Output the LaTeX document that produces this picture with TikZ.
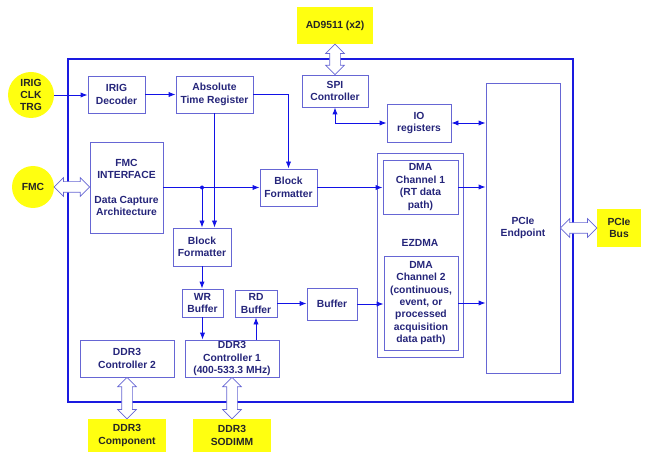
\documentclass[tikz,border=0pt]{standalone}
\usepackage{fontspec}
\setmainfont{Liberation Sans}
\usetikzlibrary{arrows.meta}
\usetikzlibrary{shapes.arrows}
\usetikzlibrary{calc}

\definecolor{linec}{HTML}{1212E6}
\definecolor{boxc}{HTML}{6666D4}
\definecolor{txtc}{HTML}{25257A}
\definecolor{framec}{HTML}{1A1AE0}
\definecolor{yellowc}{HTML}{FFFF10}

% hollow two-way arrow between two anchors
\newcommand{\hollowlink}[3]{%
  \path let \p1=(#1), \p2=(#2), \n1={veclen(\x2-\x1,\y2-\y1)} in
    node[hollow, minimum height=\n1, rotate=#3] at ($(\p1)!0.5!(\p2)$) {};}

\begin{document}
\begin{tikzpicture}[x=0.03cm,y=-0.03cm,
    font=\fontsize{8.8}{10.6}\selectfont\bfseries,
    every node/.style={text=txtc, align=center},
    blk/.style 2 args={draw=boxc, line width=0.7pt, inner sep=0pt,
      minimum width=#1*0.03cm, minimum height=#2*0.03cm},
    ext/.style 2 args={fill=yellowc, inner sep=0pt, text=black!85,
      minimum width=#1*0.03cm, minimum height=#2*0.03cm},
    extc/.style={circle, fill=yellowc, inner sep=0pt, text=black!85,
      minimum size=#1*0.03cm},
    conn/.style={draw=linec, line width=0.75pt, -{Latex[length=6pt,width=4.5pt]}},
    conn2/.style={draw=linec, line width=0.75pt, {Latex[length=6pt,width=4.5pt]}-{Latex[length=6pt,width=4.5pt]}},
    hollow/.style={double arrow, draw=boxc, fill=white, line width=0.6pt,
      inner xsep=0pt, inner ysep=5*0.03cm, minimum width=18*0.03cm,
      double arrow head extend=4*0.03cm, double arrow head indent=0pt}]
  \useasboundingbox (0,0) rectangle (645,456);

  \node[draw=framec, line width=1.5pt, inner sep=0pt,
    minimum width=505*0.03cm, minimum height=343*0.03cm] (board) at (320.5,230.5) {};

  % outside parts
  \node[extc=46] (irig) at (31,95) {IRIG\\CLK\\TRG};
  \node[extc=42] (fmc) at (33,187) {FMC};
  \node[ext={76}{37}] (ad9511) at (335,25.5) {AD9511 (x2)};
  \node[ext={44}{38}] (pciebus) at (619,228) {PCIe\\Bus};
  \node[ext={78}{33}] (ddr3comp) at (127,435.5) {DDR3\\Component};
  \node[ext={78}{33}] (ddr3sodimm) at (232,435.5) {DDR3\\SODIMM};

  % blocks on the board
  \node[blk={57}{37}] (irigdec) at (116.5,94.5) {IRIG\\Decoder};
  \node[blk={77}{37}] (abstime) at (214.5,94.5) {Absolute\\Time Register};
  \node[blk={66}{32}] (spi) at (335,91) {SPI\\Controller};
  \node[blk={64}{38}] (ioreg) at (419,123) {IO\\registers};
  \node[blk={74}{290}] (pcie) at (523,228) {PCIe\\Endpoint};
  \node[blk={73}{91}] (fmcif) at (126.5,187.5) {FMC\\INTERFACE\\[10.6pt]Data Capture\\Architecture};
  \node[blk={57}{37}] (bf1) at (288.5,187.5) {Block\\Formatter};
  \node[blk={58}{38}] (bf2) at (202,247) {Block\\Formatter};
  \node[blk={41}{28}] (wrbuf) at (202.5,303) {WR\\Buffer};
  \node[blk={42}{27}] (rdbuf) at (256,303.5) {RD\\Buffer};
  \node[blk={50}{32}] (buffer) at (332,304) {Buffer};
  \node[blk={94}{37}] (ddr3c2) at (127,358.5) {DDR3\\Controller 2};
  \node[blk={94}{37}] (ddr3c1) at (232,358.5) {DDR3\\Controller 1\\(400-533.3 MHz)};
  \node[blk={86}{204}] (ezdma) at (420,255) {};
  \node[blk={75}{54}] (dma1) at (420.5,187) {DMA\\Channel 1\\(RT data\\path)};
  \node[blk={74}{94}] (dma2) at (421,303) {DMA\\Channel 2\\(continuous,\\event, or\\processed\\acquisition\\data path)};
  \node (ezlabel) at (420,243) {EZDMA};

  % data paths
  \draw[conn] (irig.east) -- (irig.east -| irigdec.west);
  \draw[conn] (irigdec.east) -- (abstime.west);
  \draw[conn] (abstime.east) -| (bf1.north);
  \draw[conn] (abstime.south) -- (abstime.south |- bf2.north);
  \coordinate (split) at (fmcif.east -| bf2.north);
  \draw[conn] (fmcif.east) -- (bf1.west);
  \draw[conn] (split) -- (bf2.north);
  \fill[linec] (split) circle (2);
  \draw[conn] (bf1.east) -- (bf1.east -| dma1.west);
  \draw[conn] (dma1.east) -- (dma1.east -| pcie.west);
  \draw[conn2] (spi.south) |- (ioreg.west);
  \draw[conn2] (ioreg.east) -- (ioreg.east -| pcie.west);
  \draw[conn] (bf2.south) -- (bf2.south |- wrbuf.north);
  \draw[conn] (wrbuf.south) -- (wrbuf.south |- ddr3c1.north);
  \draw[conn] (rdbuf.south |- ddr3c1.north) -- (rdbuf.south);
  \draw[conn] (rdbuf.east) -- (rdbuf.east -| buffer.west);
  \draw[conn] (buffer.east) -- (buffer.east -| dma2.west);
  \draw[conn] (dma2.east) -- (dma2.east -| pcie.west);

  % external buses
  \hollowlink{ad9511.south}{spi.north}{90}
  \hollowlink{fmc.east}{fmc.east -| fmcif.west}{0}
  \hollowlink{pcie.east}{pcie.east -| pciebus.west}{0}
  \hollowlink{ddr3c2.south}{ddr3comp.north}{90}
  \hollowlink{ddr3c1.south}{ddr3sodimm.north}{90}
\end{tikzpicture}
\end{document}
